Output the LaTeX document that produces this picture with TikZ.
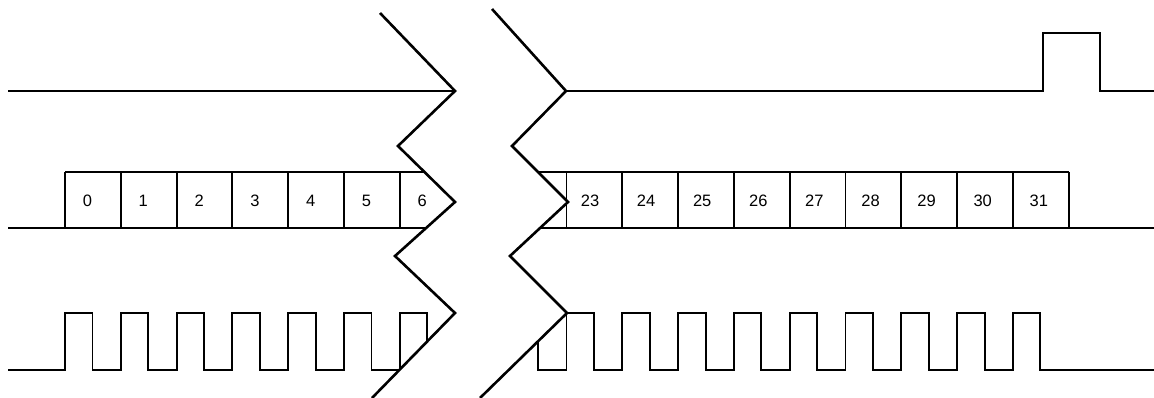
\documentclass[tikz,border=0pt]{standalone}
\usepackage{fontspec}
\setmainfont{Liberation Sans}
\newcommand{\cellw}{55.8}
\tikzset{
  sig/.style={line width=1.9pt, line join=miter},
  brk/.style={line width=2.6pt, line join=miter},
  lbl/.style={font=\fontsize{16.5}{18}\selectfont, inner sep=0pt},
}

\begin{document}
\begin{tikzpicture}[x=1pt, y=-1pt]
  \useasboundingbox (0,0) rectangle (1154,398);
  % break lines
  \coordinate (l0) at (380,13);  \coordinate (r0) at (492,9);
  \coordinate (l1) at (455,91);  \coordinate (r1) at (566,91);
  \coordinate (l2) at (398,146); \coordinate (r2) at (512,146);
  \coordinate (l3) at (455,202); \coordinate (r3) at (568,202);
  \coordinate (l4) at (395,256); \coordinate (r4) at (510,256);
  \coordinate (l5) at (455,313); \coordinate (r5) at (567,313);
  \coordinate (l6) at (372,398); \coordinate (r6) at (480,398);

  % top line with its pulse
  \draw[sig] (8,91) -- (1043,91) -- (1043,33) -- (1100,33) -- (1100,91) -- (1154,91);

  % data slots
  \draw[sig] (8,228) -- (1154,228);
  \draw[sig] (65,172) -- (470,172);
  \draw[sig] (520,172) -- (1068.7,172);
  \foreach \k in {0,...,6}
    \draw[sig] (65+\k*\cellw,172) -- (65+\k*\cellw,228);
  \foreach \k in {0,...,9}
    \draw[sig] (566.5+\k*\cellw,172) -- (566.5+\k*\cellw,228);
  \foreach \n [count=\k from 0] in {0,...,6}
    \node[lbl] (b\n) at (87.5+\k*\cellw,201) {\n};
  \foreach \n [count=\k from 0] in {23,...,31}
    \node[lbl] (b\n) at (590+\k*56.1,201) {\n};

  % clock
  \draw[sig] (8,370)
    \foreach \k in {0,...,6} {
      -- (65+\k*\cellw,370) -- (65+\k*\cellw,313)
      -- (92.5+\k*\cellw,313) -- (92.5+\k*\cellw,370) }
    -- (470,370);
  \draw[sig] (538.2,313) -- (538.2,370)
    \foreach \k in {0,...,8} {
      -- (566.5+\k*\cellw,370) -- (566.5+\k*\cellw,313)
      -- (594+\k*\cellw,313) -- (594+\k*\cellw,370) }
    -- (1154,370);

  % gap between the breaks
  \fill[white] (l0) -- (l1) -- (l2) -- (l3) -- (l4) -- (l5) -- (l6)
    -- (r6) -- (r5) -- (r4) -- (r3) -- (r2) -- (r1) -- (r0) -- cycle;
  \draw[brk] (l0) -- (l1) -- (l2) -- (l3) -- (l4) -- (l5) -- (l6);
  \draw[brk] (r0) -- (r1) -- (r2) -- (r3) -- (r4) -- (r5) -- (r6);
\end{tikzpicture}
\end{document}
